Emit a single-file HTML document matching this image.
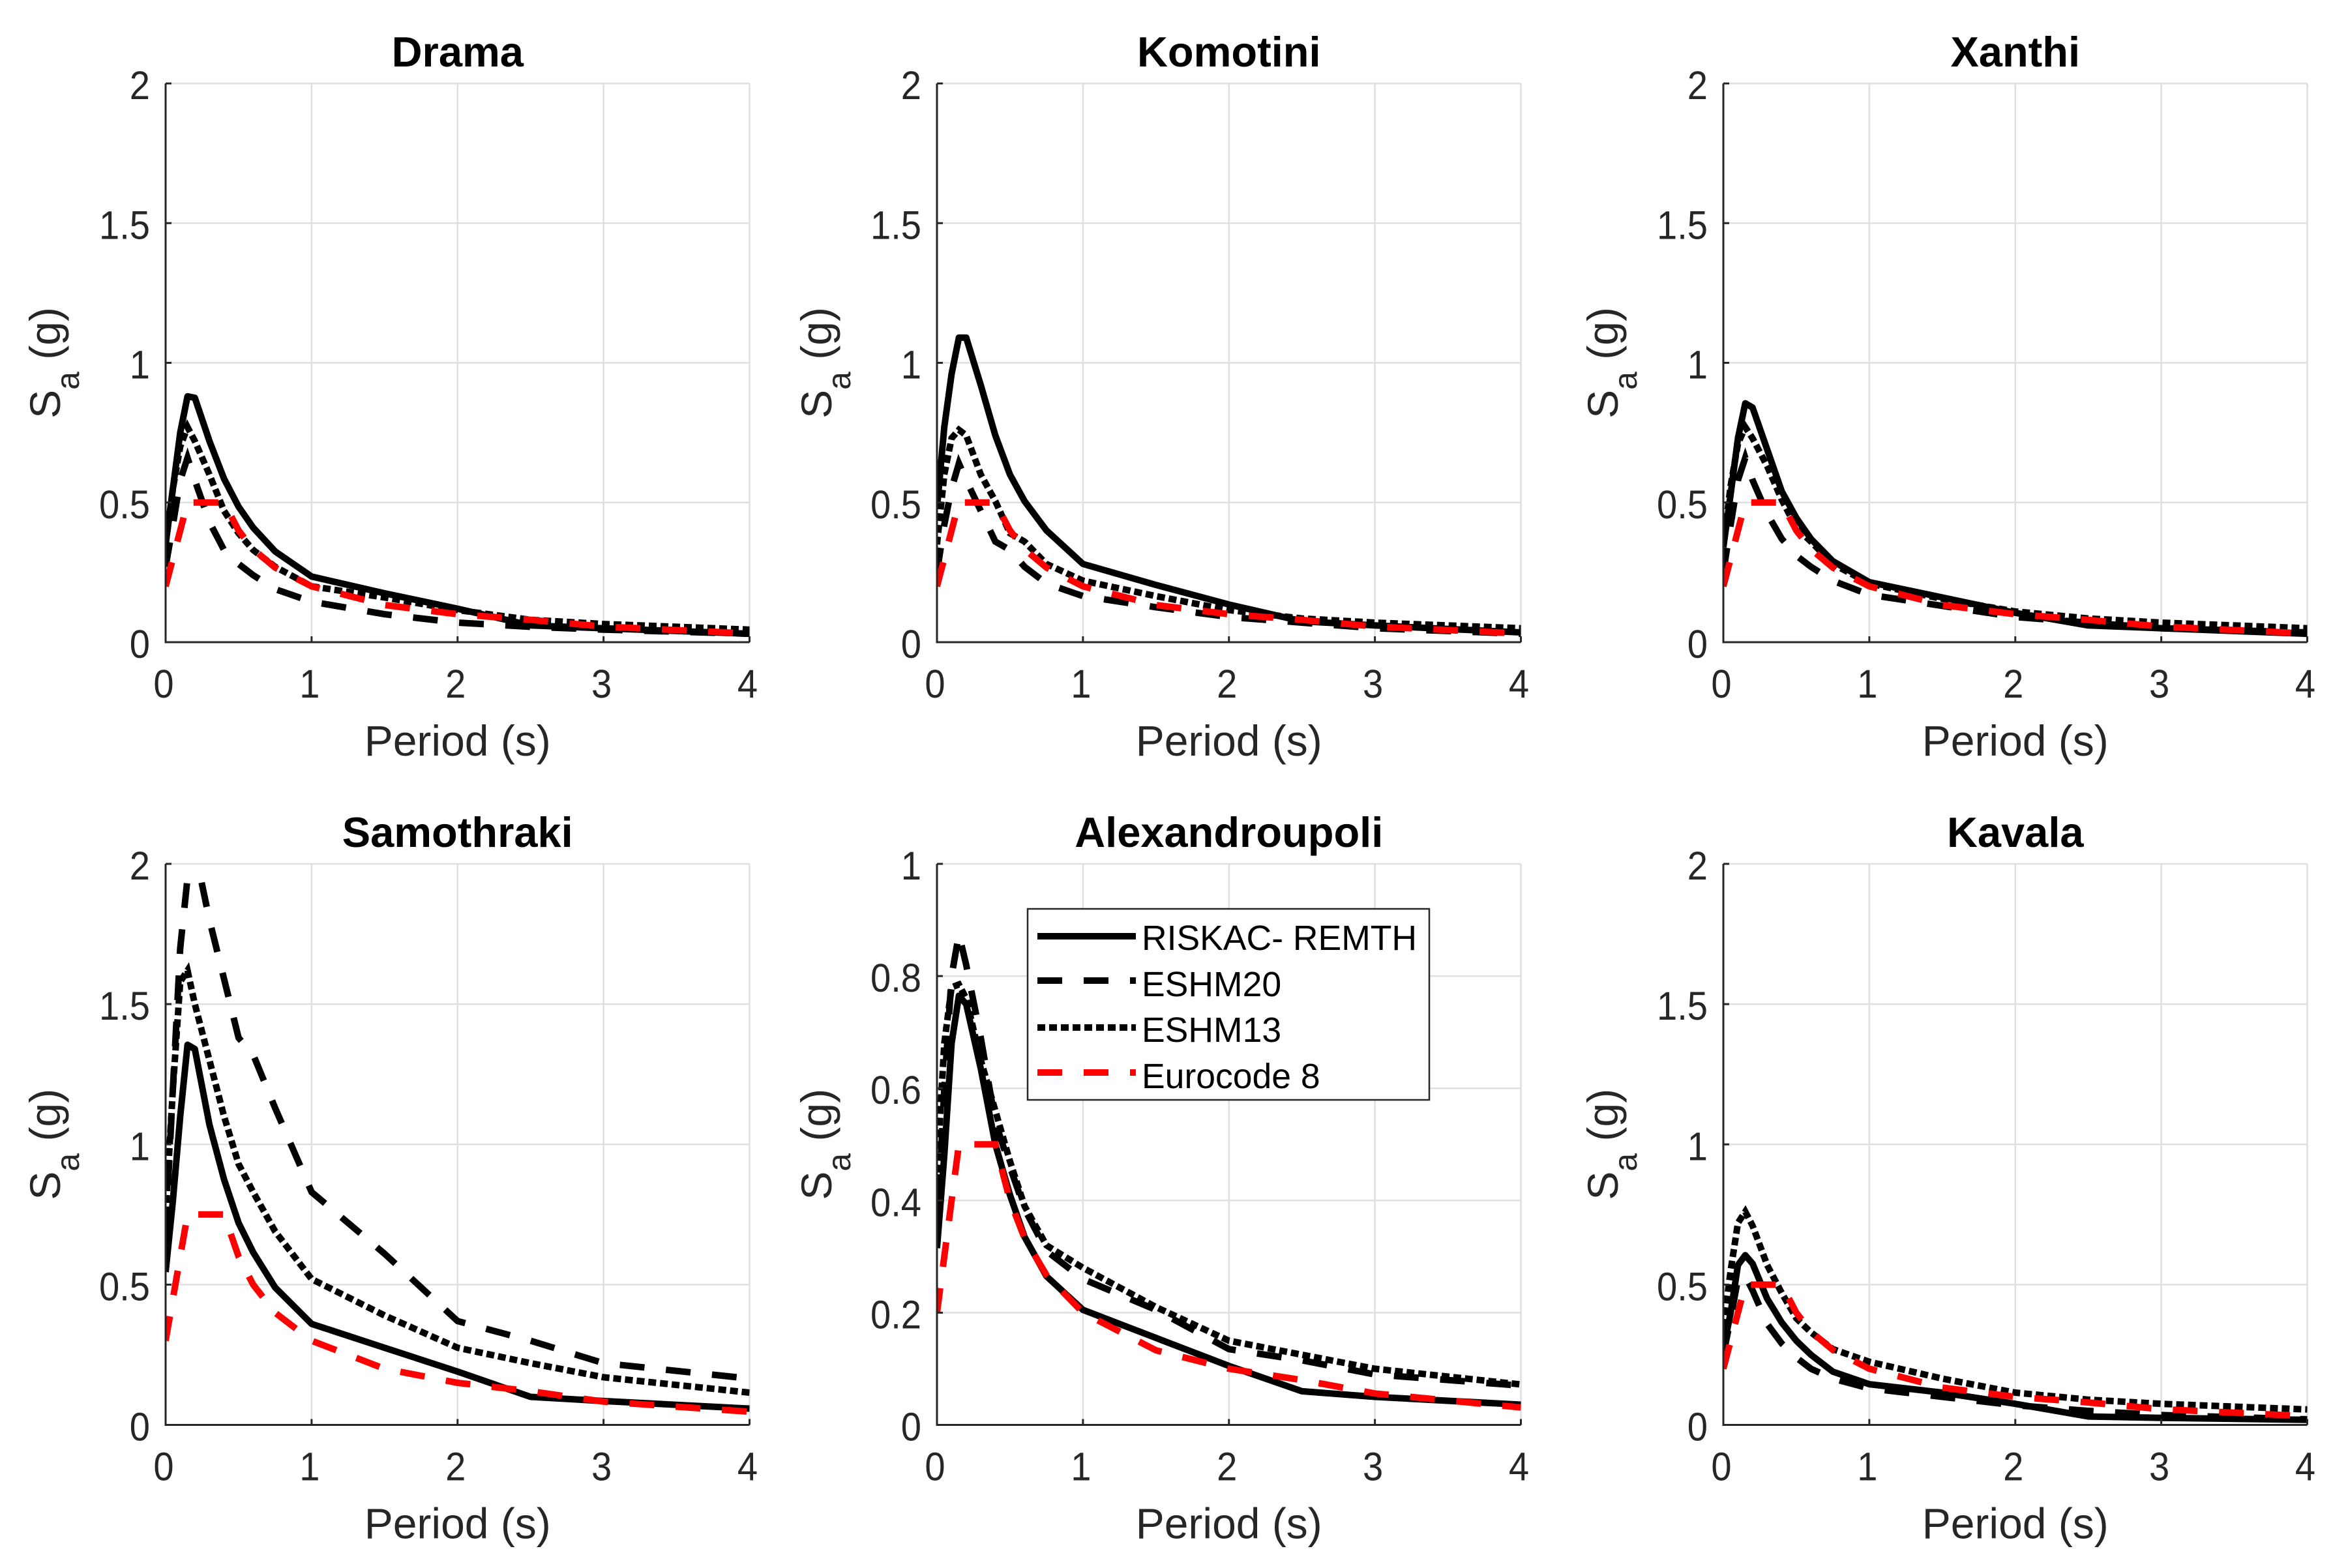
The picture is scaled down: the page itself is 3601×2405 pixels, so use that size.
<!DOCTYPE html>
<html lang="en">
<head>
<meta charset="utf-8">
<title>Response spectra by city</title>
<style>
  html, body { margin: 0; padding: 0; background: #fff; }
  svg { display: block; font-family: "Liberation Sans", Arial, sans-serif; }
</style>
</head>
<body>
<svg id="chart" xmlns="http://www.w3.org/2000/svg" width="3601" height="2405" viewBox="0 0 3601 2405">
  <rect x="0" y="0" width="3601" height="2405" fill="#ffffff"/>
</svg>
<script>
// ---------- Data ----------
const periods = [0, 0.05, 0.1, 0.15, 0.2, 0.3, 0.4, 0.5, 0.6, 0.75, 1, 1.5, 2, 2.5, 3, 4];
const ec8Periods = [0, 0.15, 0.4, 0.5, 0.6, 0.75, 1, 1.5, 2, 2.5, 3, 4];
const xTicks = [0, 1, 2, 3, 4];
const yTicksTwo = [0, 0.5, 1, 1.5, 2];
const yTicksOne = [0, 0.2, 0.4, 0.6, 0.8, 1];

const dramaRiskac = [0.35, 0.55, 0.75, 0.88, 0.875, 0.72, 0.585, 0.485, 0.41, 0.325, 0.235, 0.175, 0.12, 0.06, 0.05, 0.03];
const dramaEshm20 = [0.27, 0.42, 0.58, 0.66, 0.58, 0.43, 0.33, 0.28, 0.24, 0.19, 0.145, 0.10, 0.07, 0.055, 0.045, 0.03];
const dramaEshm13 = [0.35, 0.55, 0.70, 0.77, 0.72, 0.60, 0.47, 0.39, 0.33, 0.27, 0.20, 0.16, 0.115, 0.08, 0.065, 0.045];
const dramaEc8 = [0.2, 0.5, 0.5, 0.4, 0.333, 0.267, 0.2, 0.133, 0.1, 0.08, 0.056, 0.031];

const komotiniRiskac = [0.48, 0.77, 0.96, 1.09, 1.09, 0.92, 0.74, 0.60, 0.505, 0.40, 0.28, 0.205, 0.135, 0.075, 0.06, 0.035];
const komotiniEshm20 = [0.25, 0.42, 0.55, 0.64, 0.58, 0.47, 0.36, 0.33, 0.27, 0.21, 0.165, 0.125, 0.09, 0.07, 0.05, 0.03];
const komotiniEshm13 = [0.35, 0.60, 0.73, 0.76, 0.74, 0.60, 0.505, 0.39, 0.36, 0.28, 0.22, 0.165, 0.115, 0.085, 0.07, 0.05];
const komotiniEc8 = [0.2, 0.5, 0.5, 0.4, 0.333, 0.267, 0.2, 0.133, 0.1, 0.08, 0.056, 0.031];

const xanthiRiskac = [0.34, 0.53, 0.73, 0.855, 0.84, 0.69, 0.54, 0.445, 0.37, 0.29, 0.215, 0.16, 0.105, 0.06, 0.05, 0.03];
const xanthiEshm20 = [0.25, 0.42, 0.58, 0.66, 0.58, 0.46, 0.37, 0.31, 0.27, 0.22, 0.17, 0.13, 0.09, 0.07, 0.05, 0.035];
const xanthiEshm13 = [0.35, 0.56, 0.71, 0.77, 0.73, 0.63, 0.51, 0.41, 0.36, 0.28, 0.21, 0.155, 0.11, 0.085, 0.07, 0.05];
const xanthiEc8 = [0.2, 0.5, 0.5, 0.4, 0.333, 0.267, 0.2, 0.133, 0.1, 0.08, 0.056, 0.031];

const samothrakiRiskac = [0.545, 0.80, 1.10, 1.355, 1.34, 1.07, 0.875, 0.72, 0.615, 0.49, 0.36, 0.275, 0.19, 0.10, 0.085, 0.058];
const samothrakiEshm20 = [0.69, 1.20, 1.70, 1.95, 2.05, 1.80, 1.59, 1.38, 1.32, 1.13, 0.83, 0.61, 0.37, 0.30, 0.22, 0.165];
const samothrakiEshm13 = [0.75, 1.20, 1.58, 1.62, 1.50, 1.30, 1.10, 0.93, 0.83, 0.69, 0.52, 0.39, 0.275, 0.22, 0.17, 0.115];
const samothrakiEc8 = [0.3, 0.75, 0.75, 0.6, 0.5, 0.4, 0.3, 0.2, 0.15, 0.12, 0.083, 0.047];

const alexandroupoliRiskac = [0.315, 0.48, 0.68, 0.765, 0.75, 0.635, 0.50, 0.41, 0.335, 0.265, 0.205, 0.155, 0.105, 0.06, 0.05, 0.036];
const alexandroupoliEshm20 = [0.32, 0.60, 0.80, 0.875, 0.82, 0.69, 0.54, 0.46, 0.385, 0.31, 0.26, 0.205, 0.135, 0.115, 0.09, 0.07];
const alexandroupoliEshm13 = [0.45, 0.68, 0.78, 0.785, 0.76, 0.65, 0.56, 0.47, 0.39, 0.32, 0.28, 0.21, 0.15, 0.125, 0.10, 0.072];
const alexandroupoliEc8 = [0.2, 0.5, 0.5, 0.4, 0.333, 0.267, 0.2, 0.133, 0.1, 0.08, 0.056, 0.031];

const kavalaRiskac = [0.27, 0.40, 0.57, 0.605, 0.575, 0.45, 0.365, 0.30, 0.25, 0.19, 0.145, 0.115, 0.075, 0.03, 0.025, 0.018];
const kavalaEshm20 = [0.25, 0.38, 0.52, 0.53, 0.48, 0.36, 0.29, 0.24, 0.20, 0.165, 0.13, 0.10, 0.07, 0.05, 0.035, 0.02];
const kavalaEshm13 = [0.35, 0.55, 0.72, 0.76, 0.71, 0.57, 0.47, 0.38, 0.33, 0.27, 0.225, 0.165, 0.115, 0.09, 0.075, 0.055];
const kavalaEc8 = [0.2, 0.5, 0.5, 0.4, 0.333, 0.267, 0.2, 0.133, 0.1, 0.08, 0.056, 0.031];

const panels = [
  { title: 'Drama', key: 'drama', yTicks: yTicksTwo, riskac: dramaRiskac, eshm20: dramaEshm20, eshm13: dramaEshm13, ec8: dramaEc8 },
  { title: 'Komotini', key: 'komotini', yTicks: yTicksTwo, riskac: komotiniRiskac, eshm20: komotiniEshm20, eshm13: komotiniEshm13, ec8: komotiniEc8 },
  { title: 'Xanthi', key: 'xanthi', yTicks: yTicksTwo, riskac: xanthiRiskac, eshm20: xanthiEshm20, eshm13: xanthiEshm13, ec8: xanthiEc8 },
  { title: 'Samothraki', key: 'samothraki', yTicks: yTicksTwo, riskac: samothrakiRiskac, eshm20: samothrakiEshm20, eshm13: samothrakiEshm13, ec8: samothrakiEc8 },
  { title: 'Alexandroupoli', key: 'alexandroupoli', yTicks: yTicksOne, riskac: alexandroupoliRiskac, eshm20: alexandroupoliEshm20, eshm13: alexandroupoliEshm13, ec8: alexandroupoliEc8 },
  { title: 'Kavala', key: 'kavala', yTicks: yTicksTwo, riskac: kavalaRiskac, eshm20: kavalaEshm20, eshm13: kavalaEshm13, ec8: kavalaEc8 }
];

// ---------- Layout ----------
const columnLefts = [254, 1437, 2643];
const rowTops = [128, 1325];
const rowHeights = [857, 860.5];
const axesWidth = 895.5;
const xMax = 4;
const axisInk = '#262626';
const gridInk = '#dfdfdf';
const SVG_NS = 'http://www.w3.org/2000/svg';
const svg = document.getElementById('chart');

function make(tag, attrs, parent) {
  const el = document.createElementNS(SVG_NS, tag);
  for (const k in attrs) el.setAttribute(k, attrs[k]);
  parent.appendChild(el);
  return el;
}
function xScale(box, t) { return box.left + (t / xMax) * axesWidth; }
function yScale(box, v, yMax) { return box.top + box.height - (v / yMax) * box.height; }
function linePath(box, xs, ys, yMax) {
  return xs.map(function (t, i) {
    return (i ? 'L' : 'M') + xScale(box, t).toFixed(1) + ' ' + yScale(box, ys[i], yMax).toFixed(1);
  }).join(' ');
}

const defs = make('defs', {}, svg);

panels.forEach(function (p, idx) {
  const row = Math.floor(idx / 3);
  const box = { left: columnLefts[idx % 3], top: rowTops[row], height: rowHeights[row] };
  const yMax = p.yTicks[p.yTicks.length - 1];
  const right = box.left + axesWidth;
  const bottom = box.top + box.height;

  const clip = make('clipPath', { id: 'clip-' + idx }, defs);
  make('rect', { x: box.left, y: box.top, width: axesWidth, height: box.height }, clip);

  const g = make('g', {}, svg);
  
  

  // grid
  xTicks.forEach(function (t) {
    if (t === 0) return;
    const gl = make('line', { x1: xScale(box, t), x2: xScale(box, t), y1: box.top, y2: bottom, stroke: gridInk, 'stroke-width': 2.5 }, g);
    
    
  });
  p.yTicks.forEach(function (v) {
    if (v === 0) return;
    const gl = make('line', { x1: box.left, x2: right, y1: yScale(box, v, yMax), y2: yScale(box, v, yMax), stroke: gridInk, 'stroke-width': 2.5 }, g);
    
    
  });

  // series
  const plot = make('g', { 'clip-path': 'url(#clip-' + idx + ')', fill: 'none' }, g);
  
  

  const riskacLine = make('path', { d: linePath(box, periods, p.riskac, yMax), stroke: '#000', 'stroke-width': 10, 'stroke-linejoin': 'round' }, plot);
  
  

  const eshm20Line = make('path', { d: linePath(box, periods, p.eshm20, yMax), stroke: '#000', 'stroke-width': 10, 'stroke-dasharray': '38 33' }, plot);
  
  

  const eshm13Line = make('path', { d: linePath(box, periods, p.eshm13, yMax), stroke: '#000', 'stroke-width': 10, 'stroke-dasharray': '12 6' }, plot);
  
  

  const ec8Line = make('path', { d: linePath(box, ec8Periods, p.ec8, yMax), stroke: '#ff0000', 'stroke-width': 10, 'stroke-dasharray': '38 33' }, plot);
  
  

  // axes
  const xAxis = make('line', { x1: box.left - 1.5, x2: right, y1: bottom, y2: bottom, stroke: axisInk, 'stroke-width': 3 }, g);
  
  
  const yAxis = make('line', { x1: box.left, x2: box.left, y1: box.top, y2: bottom, stroke: axisInk, 'stroke-width': 3 }, g);
  
  

  xTicks.forEach(function (t) {
    const x = xScale(box, t);
    const tick = make('line', { x1: x, x2: x, y1: bottom, y2: bottom - 9, stroke: axisInk, 'stroke-width': 3 }, g);
    
    
    const label = make('text', { x: 0, y: 0, transform: 'translate(' + (x - 3) + ' ' + (bottom + 85) + ') scale(0.92 1)', 'text-anchor': 'middle', 'font-size': 61, fill: axisInk }, g);
    
    
    label.textContent = String(t);
  });
  p.yTicks.forEach(function (v) {
    const y = yScale(box, v, yMax);
    const tick = make('line', { x1: box.left, x2: box.left + 9, y1: y, y2: y, stroke: axisInk, 'stroke-width': 3 }, g);
    
    
    const label = make('text', { x: 0, y: 0, transform: 'translate(' + (box.left - 24) + ' ' + (y + 24) + ') scale(0.92 1)', 'text-anchor': 'end', 'font-size': 61, fill: axisInk }, g);
    
    
    label.textContent = String(v);
  });

  // titles and axis labels
  const centerX = box.left + axesWidth / 2;
  const title = make('text', { x: centerX, y: box.top - 26, 'text-anchor': 'middle', 'font-size': 65, 'font-weight': 'bold', fill: '#000' }, g);
  
  
  title.textContent = p.title;

  const xLabel = make('text', { x: centerX, y: bottom + 174, 'text-anchor': 'middle', 'font-size': 66, fill: axisInk }, g);
  
  
  xLabel.textContent = 'Period (s)';

  const yx = box.left - 162;
  const yy = box.top + box.height / 2;
  const yLabel = make('text', { x: yx, y: yy, 'text-anchor': 'middle', 'font-size': 66, fill: axisInk, transform: 'rotate(-90 ' + yx + ' ' + yy + ')' }, g);
  
  
  const sPart = make('tspan', {}, yLabel);
  sPart.textContent = 'S';
  const aPart = make('tspan', { dy: 29, 'font-size': 50 }, yLabel);
  aPart.textContent = 'a';
  const gPart = make('tspan', { dy: -29 }, yLabel);
  gPart.textContent = ' (g)';
});

// ---------- Legend ----------
const legendEntries = [
  { label: 'RISKAC- REMTH', key: 'riskac-remth', color: '#000', dash: '' },
  { label: 'ESHM20', key: 'eshm20', color: '#000', dash: '38 33' },
  { label: 'ESHM13', key: 'eshm13', color: '#000', dash: '12 6' },
  { label: 'Eurocode 8', key: 'eurocode-8', color: '#ff0000', dash: '38 33' }
];
const legendSwatchRows = [1436, 1504, 1576, 1645];
const legendTextRows = [1457, 1528, 1598, 1669];
const legend = make('g', {}, svg);


const legendBox = make('rect', { x: 1576, y: 1394, width: 616, height: 293, fill: '#fff', stroke: '#262626', 'stroke-width': 2.5 }, legend);


legendEntries.forEach(function (e, i) {
  const swatch = make('line', { x1: 1591, x2: 1742, y1: legendSwatchRows[i], y2: legendSwatchRows[i], stroke: e.color, 'stroke-width': 10 }, legend);
  if (e.dash) swatch.setAttribute('stroke-dasharray', e.dash);
  
  
  const txt = make('text', { x: 1751, y: legendTextRows[i], 'font-size': 53.5, fill: '#000' }, legend);
  
  
  txt.textContent = e.label;
});
</script>
</body>
</html>
